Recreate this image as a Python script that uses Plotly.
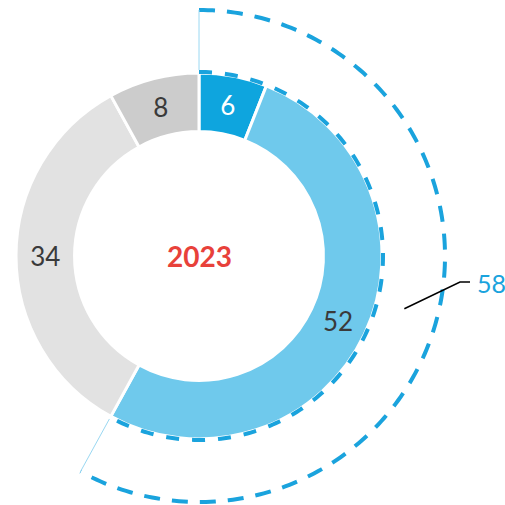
import numpy as np
import plotly.graph_objects as go

# ---- data ----
labels = ["A", "B", "C", "D"]
values = [6, 52, 34, 8]
colors = ["#0ea5de", "#6fc9ec", "#e2e2e2", "#cccccc"]
text_colors = ["#ffffff", "#3a3a3a", "#3a3a3a", "#3a3a3a"]
highlight_count = 2          # first two slices are grouped
center_label = "2023"

# ---- geometry (pixels) ----
W = H = 505
cx, cy = 199, 256
R_out = 183
hole = 0.68
R_dash_in = 184
R_dash_out = 246
blue = "#1aa3dd"
FONT = "Lato, sans-serif"

total = sum(values)
group_val = sum(values[:highlight_count])
group_frac = group_val / total

fig = go.Figure()

fig.add_trace(go.Pie(
    labels=labels, values=values, sort=False, direction="clockwise", rotation=0,
    hole=hole,
    marker=dict(colors=colors, line=dict(color="white", width=3)),
    textinfo="value", textposition="inside", insidetextorientation="horizontal",
    textfont=dict(family=FONT, size=26, color=text_colors),
    domain=dict(x=[(cx - R_out) / W, (cx + R_out) / W],
                y=[(H - cy - R_out) / H, (H - cy + R_out) / H]),
    showlegend=False, hoverinfo="skip",
))

def arc_path(r, a0, a1, n=200):
    t = np.linspace(a0, a1, n)
    xs = cx + r * np.sin(t)
    ys = cy - r * np.cos(t)
    return "M " + " L ".join(f"{a:.2f},{b:.2f}" for a, b in zip(xs, ys))

a_end = 2 * np.pi * group_frac
# inner dashed border along the grouped slices
fig.add_shape(type="path", path=arc_path(R_dash_in, 0, a_end), layer="above",
              xref="x", yref="y",
              line=dict(color=blue, width=4, dash="13px,13px"))
# outer dashed arc
fig.add_shape(type="path", path=arc_path(R_dash_out, 0, a_end), layer="above",
              xref="x", yref="y",
              line=dict(color=blue, width=4, dash="16px,12px"))
# thin radial connectors
for a in (0, a_end):
    fig.add_shape(type="line", layer="above", xref="x", yref="y",
                  x0=cx + (R_dash_in + 2) * np.sin(a), y0=cy - (R_dash_in + 2) * np.cos(a),
                  x1=cx + R_dash_out * np.sin(a), y1=cy - R_dash_out * np.cos(a),
                  line=dict(color="#9ad8f2", width=1))

# leader line
a_mid = a_end / 2
r0 = 212
x0, y0 = cx + r0 * np.sin(a_mid), cy - r0 * np.cos(a_mid)
fig.add_shape(type="path", layer="above", xref="x", yref="y",
              path=f"M {x0:.2f},{y0:.2f} L {cx + 261:.2f},{cy + 26:.2f} L {cx + 271:.2f},{cy + 26:.2f}",
              line=dict(color="black", width=1.5))

fig.add_annotation(x=cx + 276, y=cy + 27, text=str(group_val), showarrow=False,
                   xanchor="left", yanchor="middle",
                   font=dict(family=FONT, size=25, color=blue))
fig.add_annotation(x=cx, y=cy, text="<b>" + center_label + "</b>", showarrow=False,
                   xanchor="center", yanchor="middle",
                   font=dict(family=FONT, size=28, color="#e8413a"))

fig.update_layout(
    width=W, height=H, margin=dict(l=0, r=0, t=0, b=0),
    paper_bgcolor="white", plot_bgcolor="white",
    xaxis=dict(range=[0, W], visible=False, fixedrange=True),
    yaxis=dict(range=[H, 0], visible=False, fixedrange=True),
)

fig.write_html("out.html", config={"displayModeBar": False},
               post_script="document.body.style.margin='0';document.body.style.overflow='hidden';")
